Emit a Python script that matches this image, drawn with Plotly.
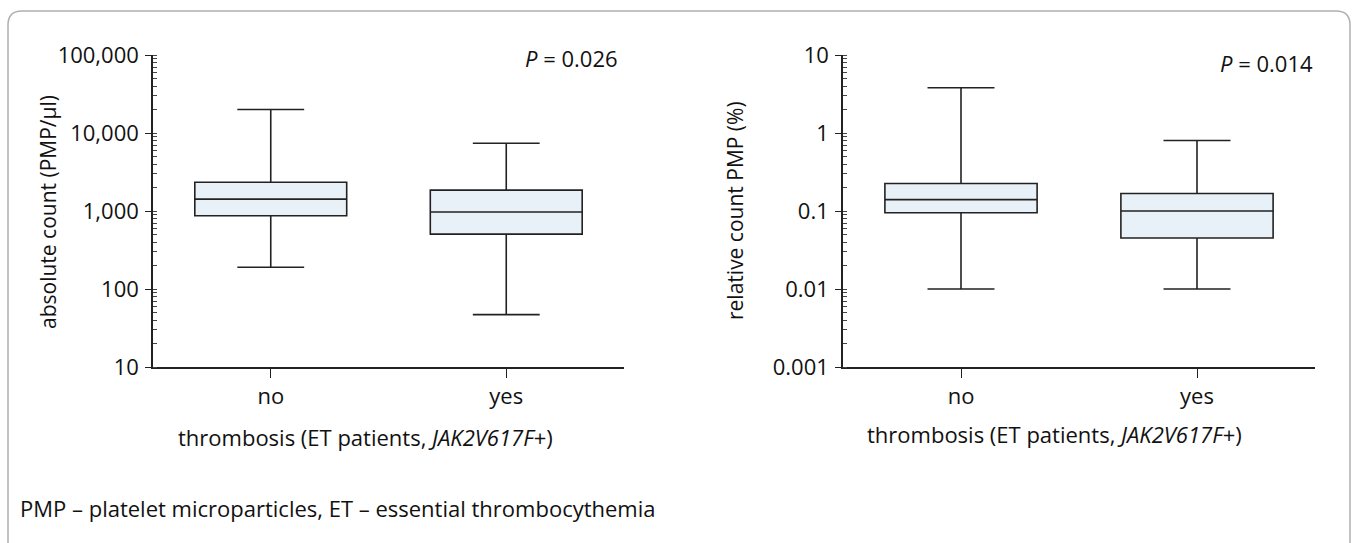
import plotly.graph_objects as go

W, H = 1356, 543
FONT = "Open Sans"

categories = ["no", "yes"]
# absolute count (PMP/µl)
abs_lower = [190, 47]
abs_q1 = [870, 505]
abs_median = [1420, 970]
abs_q3 = [2340, 1850]
abs_upper = [20000, 7400]
# relative count PMP (%)
rel_lower = [0.01, 0.01]
rel_q1 = [0.095, 0.045]
rel_median = [0.14, 0.10]
rel_q3 = [0.225, 0.168]
rel_upper = [3.8, 0.8]

abs_ticks = [10, 100, 1000, 10000, 100000]
abs_ticklabels = ["10", "100", "1,000", "10,000", "100,000"]
rel_ticks = [0.001, 0.01, 0.1, 1, 10]
rel_ticklabels = ["0.001", "0.01", "0.1", "1", "10"]


def px(x):
    return x / W


def py(y):
    return 1 - y / H


fig = go.Figure()
box_style = dict(fillcolor="#e8f0f8", line=dict(color="#222222", width=1.6),
                 whiskerwidth=0.44, width=0.645, boxpoints=False, showlegend=False,
                 hoverinfo="skip")
fig.add_trace(go.Box(x=[0, 1], q1=abs_q1, median=abs_median, q3=abs_q3,
                     lowerfence=abs_lower, upperfence=abs_upper,
                     xaxis="x", yaxis="y", **box_style))
fig.add_trace(go.Box(x=[0, 1], q1=rel_q1, median=rel_median, q3=rel_q3,
                     lowerfence=rel_lower, upperfence=rel_upper,
                     xaxis="x2", yaxis="y2", **box_style))

tickfont = dict(family=FONT, size=22, color="#111111")
common_x = dict(range=[-0.5, 1.5], tickmode="array", tickvals=[0, 1], ticktext=categories,
                showline=True, linecolor="#222222", linewidth=1.6, ticks="outside",
                ticklen=9, tickwidth=1.4, tickcolor="#222222", showgrid=False,
                zeroline=False, tickfont=tickfont, fixedrange=True, automargin=False)
minor = dict(ticks="inside", ticklen=4, tickwidth=1, tickcolor="#444444", dtick="D1",
             showgrid=False)
common_y = dict(type="log", showline=True, linecolor="#222222", linewidth=1.6,
                ticks="outside", ticklen=6, tickwidth=1.4, tickcolor="#222222",
                showgrid=False, zeroline=False, tickfont=tickfont, minor=minor,
                tickmode="array", automargin=False, ticklabelstandoff=2)

ydom = [py(367), py(55)]
fig.update_layout(
    template="none",
    width=W, height=H, margin=dict(l=0, r=0, t=0, b=0, pad=0, autoexpand=False),
    paper_bgcolor="white", plot_bgcolor="white",
    font=dict(family=FONT, color="#111111"),
    xaxis=dict(domain=[px(153), px(624)], anchor="y", **common_x),
    yaxis=dict(domain=ydom, anchor="x", range=[1, 5], tickvals=abs_ticks,
               ticktext=abs_ticklabels, **common_y),
    xaxis2=dict(domain=[px(843), px(1315)], anchor="y2", **common_x),
    yaxis2=dict(domain=ydom, anchor="x2", range=[-3, 1], tickvals=rel_ticks,
                ticktext=rel_ticklabels, **common_y),
)

annots = [
    dict(text="absolute count (PMP/µl)", x=px(48), y=py(212), textangle=-90, size=21),
    dict(text="relative count PMP (%)", x=px(735), y=py(211), textangle=-90, size=21),
    dict(text="<i>P</i> = 0.026", x=px(620), y=py(58), xanchor="right"),
    dict(text="<i>P</i> = 0.014", x=px(1315), y=py(63), xanchor="right"),
    dict(text="thrombosis (ET patients, <i>JAK2V617F</i>+)", x=px(365), y=py(437)),
    dict(text="thrombosis (ET patients, <i>JAK2V617F</i>+)", x=px(1054), y=py(434)),
    dict(text="PMP – platelet microparticles, ET – essential thrombocythemia",
         x=px(18), y=py(508), xanchor="left"),
]
for a in annots:
    a.setdefault("xanchor", "center")
    size = a.pop("size", 22)
    fig.add_annotation(xref="paper", yref="paper", showarrow=False,
                       yanchor="middle", font=dict(family=FONT, size=size, color="#111111"), **a)

# rounded frame
x0, y0, x1, r = 8, 11, 1350, 14
path = (f"M {px(x0)},{py(H + 5)} L {px(x0)},{py(y0 + r)} "
        f"Q {px(x0)},{py(y0)} {px(x0 + r)},{py(y0)} "
        f"L {px(x1 - r)},{py(y0)} Q {px(x1)},{py(y0)} {px(x1)},{py(y0 + r)} "
        f"L {px(x1)},{py(H + 5)}")
fig.add_shape(type="path", path=path, xref="paper", yref="paper",
              line=dict(color="#b0b0b0", width=1.5))

fig.write_html("out.html")
